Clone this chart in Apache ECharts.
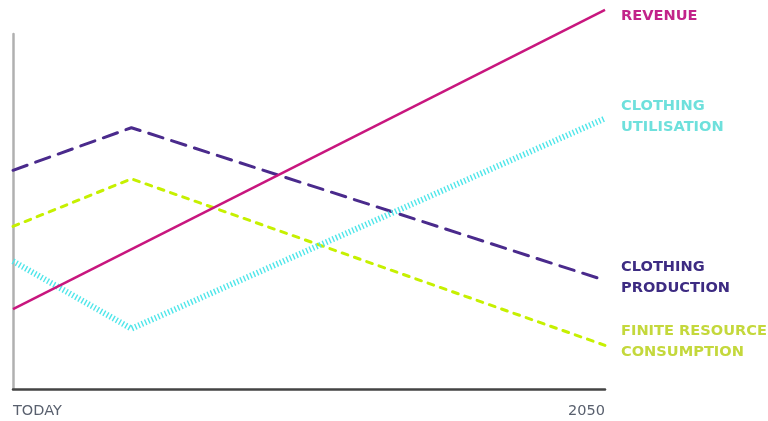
<!DOCTYPE html>
<html>
<head>
<meta charset="utf-8">
<script src="https://cdn.jsdelivr.net/npm/echarts@6/dist/echarts.min.js"></script>
<style>
html,body{margin:0;padding:0;background:#fff;}
#chart{width:768px;height:421px;}
</style>
</head>
<body>
<div id="chart"></div>
<script>
// Horizontal position: 0 = today, 100 = 2050; the turning point sits at 20.
const xTicks = ['TODAY', '2050'];
const revenue = [[0, 22.5], [100, 106.8]];
const production = [[0, 61.6], [20, 73.6], [100, 30.6]];
const resources = [[0, 45.8], [20, 59.2], [100, 12.3]];
const utilisation = [[0, 36.0], [20, 17.0], [100, 76.2]];

const labelFont = 'DejaVu Sans';

function endLabel(color, dy) {
  return {
    show: true,
    formatter: '{a}',
    color: color,
    fontFamily: labelFont,
    fontWeight: 'bold',
    fontSize: 14.6,
    lineHeight: 21,
    distance: 16,
    offset: [0, dy],
    align: 'left',
    verticalAlign: 'middle'
  };
}

const chart = echarts.init(document.getElementById('chart'));
chart.setOption({
  animation: false,
  grid: { left: 13, right: 163, top: 34, bottom: 32, containLabel: false },
  xAxis: {
    type: 'value', min: 0, max: 100, interval: 100,
    axisLine: { show: true, lineStyle: { color: '#444', width: 2.5 } },
    axisTick: { show: false },
    splitLine: { show: false },
    axisLabel: {
      formatter: v => (v === 0 ? xTicks[0] : xTicks[1]),
      alignMinLabel: 'left', alignMaxLabel: 'right',
      color: '#59606e', fontFamily: 'DejaVu Sans', fontSize: 14.5, margin: 15
    }
  },
  yAxis: {
    type: 'value', min: 0, max: 100,
    axisLine: { show: true, lineStyle: { color: '#b0b0b0', width: 2.5 } },
    axisTick: { show: false },
    axisLabel: { show: false },
    splitLine: { show: false }
  },
  series: [
    {
      name: 'REVENUE', type: 'line', data: revenue, clip: false,
      symbol: 'none', z: 4,
      lineStyle: { color: '#c8167e', width: 2.5 },
      endLabel: endLabel('#c2238a', 6)
    },
    {
      name: 'CLOTHING\nUTILISATION', type: 'line', data: utilisation, clip: false,
      symbol: 'none', z: 3,
      lineStyle: { color: '#4fe6ea', width: 6, type: [1.4, 2.2], cap: 'butt' },
      endLabel: endLabel('#6ee0dc', -2)
    },
    {
      name: 'CLOTHING\nPRODUCTION', type: 'line', data: production, clip: false,
      symbol: 'none', z: 2,
      lineStyle: { color: '#4a2a8c', width: 3, type: [15, 9], cap: 'round' },
      endLabel: endLabel('#3d2b82', -3)
    },
    {
      name: 'FINITE RESOURCE\nCONSUMPTION', type: 'line', data: resources, clip: false,
      symbol: 'none', z: 1,
      lineStyle: { color: '#c6f000', width: 3, type: [6, 7], cap: 'round' },
      endLabel: endLabel('#c4d83c', -4)
    }
  ]
});
</script>
</body>
</html>
